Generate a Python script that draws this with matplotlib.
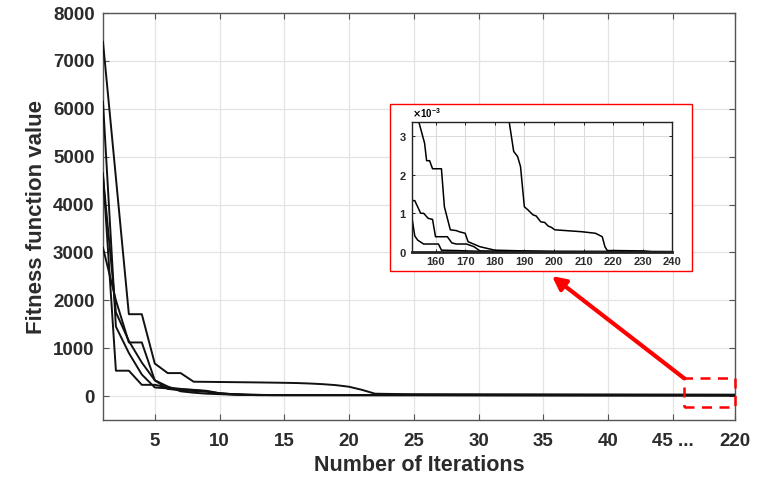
import numpy as np
import matplotlib
matplotlib.use("Agg")
import matplotlib.pyplot as plt
from matplotlib.patches import Rectangle
from matplotlib.ticker import ScalarFormatter

plt.rcParams['font.family'] = ['Liberation Sans', 'DejaVu Sans']
plt.rcParams['font.weight'] = 'bold'

# main plot: best fitness per iteration for five runs (last point = iteration 220)
iters = [1, 2, 3, 4, 5, 6, 7, 8, 9, 10, 11, 12, 13, 14, 15, 16, 17, 18, 19, 20,
         21, 22, 23, 24, 25, 49.8]
run_a = [7400, 4560, 1710, 1710, 680, 480, 480, 300, 297, 294, 291, 288, 285,
         281, 277, 272, 262, 248, 228, 195, 130, 50, 45, 42, 40, 30]
run_b = [3100, 2000, 1120, 1120, 330, 150, 120, 105, 90, 60, 40, 30, 25, 22,
         20, 20, 20, 20, 20, 20, 20, 20, 20, 20, 20, 15]
run_c = [4650, 530, 530, 235, 235, 180, 150, 130, 110, 60, 40, 30, 25, 20,
         20, 20, 20, 20, 20, 20, 20, 20, 20, 20, 20, 15]
run_d = [6150, 1450, 900, 450, 180, 160, 140, 125, 100, 50, 35, 25, 20, 20,
         20, 20, 20, 20, 20, 20, 20, 20, 20, 20, 20, 15]
run_e = [4600, 1750, 1150, 700, 330, 200, 100, 70, 50, 40, 30, 25, 20, 20,
         20, 20, 20, 20, 20, 20, 20, 20, 20, 20, 20, 15]

xtick_pos = [5, 10, 15, 20, 25, 30, 35, 40, 45, 49.8]
xtick_labels = ['5', '10', '15', '20', '25', '30', '35', '40', '45 ...', '220']
ytick_pos = [0, 1000, 2000, 3000, 4000, 5000, 6000, 7000, 8000]

# zoomed tail (values in units of 1e-3)
in1_x = [152, 154.4, 156.3, 157, 158, 159, 162, 163, 165, 167, 168, 170, 171,
         175, 180, 190, 200, 240]
in1_y = [4.0, 3.37, 2.83, 2.37, 2.37, 2.16, 2.16, 1.17, 0.57, 0.55, 0.52, 0.48,
         0.26, 0.13, 0.04, 0.02, 0.0, 0.0]
in2_x = [152, 153, 155, 156, 157.5, 159, 160, 164, 165.5, 167, 170.5, 173, 175,
         180, 240]
in2_y = [1.33, 1.33, 1.0, 1.0, 0.87, 0.84, 0.39, 0.39, 0.23, 0.2, 0.2, 0.13,
         0.02, 0.01, 0.0]
in3_x = [152, 153, 154, 156, 161, 162, 167, 175, 240]
in3_y = [0.91, 0.41, 0.30, 0.2, 0.2, 0.04, 0.03, 0.01, 0.0]
in4_x = [184, 184.9, 186.4, 187.7, 188.7, 190, 191.2, 192.9, 194, 195.5, 196.9,
         198, 199.2, 200.3, 209.4, 214, 216.3, 217.2, 218, 221, 230, 233, 240]
in4_y = [3.85, 3.37, 2.61, 2.48, 2.22, 1.17, 1.09, 0.96, 0.93, 0.78, 0.76, 0.67,
         0.63, 0.57, 0.52, 0.48, 0.39, 0.13, 0.03, 0.03, 0.02, 0.0, 0.0]

grid_col = '#e3e3e3'
axis_col = '#555555'
text_col = '#2b2b2b'

fig = plt.figure(figsize=(7.57, 4.82), dpi=100)
ax = fig.add_axes([0.136, 0.1286, 0.835, 0.8444])

for run in [run_a, run_b, run_c, run_d, run_e]:
    ax.plot(iters, run, color='#111111', lw=1.4, zorder=3)

ax.set_xlim(1, 49.8)
ax.set_ylim(-500, 8000)
ax.set_xticks(xtick_pos)
ax.set_xticklabels(xtick_labels)
ax.set_yticks(ytick_pos)
ax.tick_params(axis='both', direction='in', top=True, right=True, length=4,
               labelsize=13.5, color=axis_col, width=0.8, pad=6)
ax.tick_params(axis='x', pad=9)
for lab in ax.get_xticklabels() + ax.get_yticklabels():
    lab.set_fontweight('bold')
    lab.set_color(text_col)
ax.grid(True, color=grid_col, lw=0.9)
for sp in ax.spines.values():
    sp.set_color(axis_col)
    sp.set_linewidth(1.0)
ax.set_xlabel('Number of Iterations', fontsize=15.5, fontweight='bold', color=text_col, labelpad=4)
ax.set_ylabel('Fitness function value', fontsize=16, fontweight='bold', color=text_col, labelpad=4)

# dashed box on the tail and arrow to the zoom
ax.add_patch(Rectangle((45.88, -235), 3.92, 604, fill=False, ec='red', ls=(0, (4, 3)),
                       lw=1.8, clip_on=False, zorder=5))
ax.annotate('', xy=(35.67, 2506), xytext=(45.88, 369),
            arrowprops=dict(arrowstyle='-|>', color='red', lw=3, mutation_scale=20,
                            shrinkA=0, shrinkB=0), zorder=6)

# white panel with red frame behind the inset
fig.patches.append(Rectangle((0.5152, 0.4384), 0.3986, 0.3458, transform=fig.transFigure,
                             fc='white', ec='red', lw=1.0, zorder=4))

ax2 = fig.add_axes([0.544, 0.4778, 0.3443, 0.2685])
ax2.set_zorder(5)
for xs, ys in [(in1_x, in1_y), (in2_x, in2_y), (in3_x, in3_y), (in4_x, in4_y)]:
    ax2.plot(xs, np.array(ys) * 1e-3, color='black', lw=1.1)
ax2.set_xlim(152, 240)
ax2.set_ylim(0, 3.37e-3)
ax2.set_xticks([160, 170, 180, 190, 200, 210, 220, 230, 240])
ax2.set_yticks([0, 1e-3, 2e-3, 3e-3])
fmt = ScalarFormatter(useMathText=True)
fmt.set_powerlimits((-2, 2))
ax2.yaxis.set_major_formatter(fmt)
ax2.yaxis.get_offset_text().set_fontsize(7)
ax2.tick_params(axis='both', direction='in', top=True, right=True, length=2.5,
                labelsize=8, width=0.6)
for lab in ax2.get_xticklabels() + ax2.get_yticklabels():
    lab.set_fontweight('bold')
    lab.set_color(text_col)
ax2.grid(True, color='#dcdcdc', lw=0.8)
for sp in ax2.spines.values():
    sp.set_color('#222222')
    sp.set_linewidth(1.0)
ax2.spines['bottom'].set_linewidth(2.0)

fig.savefig('out.png', dpi=100)
